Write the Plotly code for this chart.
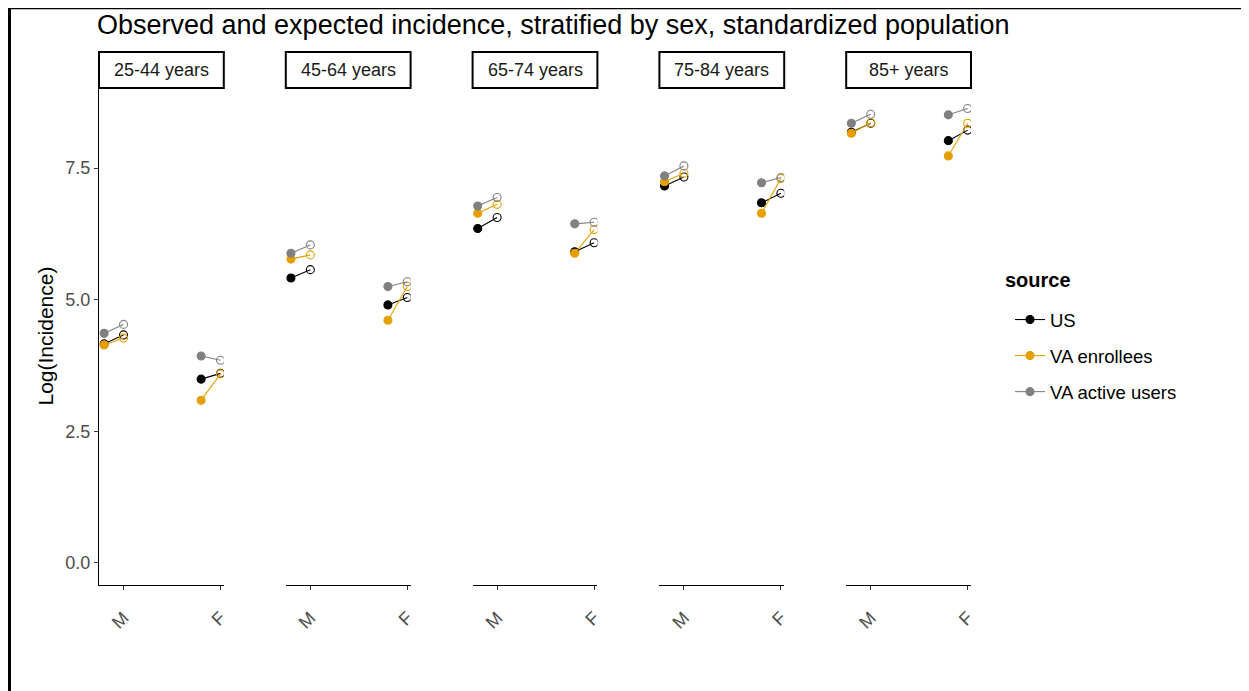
import plotly.graph_objects as go
from plotly.subplots import make_subplots

# ---------------- data ----------------
age_groups = ["25-44 years", "45-64 years", "65-74 years", "75-84 years", "85+ years"]
sexes = ["M", "F"]
sources = ["US", "VA enrollees", "VA active users"]

# observed (filled) and expected (open) log incidence, per age group: [M, F]
us_observed = [[4.16, 3.49], [5.41, 4.90], [6.35, 5.91], [7.16, 6.84], [8.18, 8.02]]
us_expected = [[4.33, 3.60], [5.57, 5.04], [6.56, 6.08], [7.33, 7.02], [8.35, 8.22]]
vae_observed = [[4.14, 3.09], [5.77, 4.61], [6.64, 5.88], [7.24, 6.64], [8.16, 7.73]]
vae_expected = [[4.27, 3.59], [5.85, 5.25], [6.81, 6.33], [7.40, 7.30], [8.36, 8.35]]
vaa_observed = [[4.36, 3.93], [5.88, 5.25], [6.78, 6.44], [7.35, 7.22], [8.35, 8.51]]
vaa_expected = [[4.53, 3.85], [6.04, 5.34], [6.94, 6.47], [7.54, 7.32], [8.52, 8.63]]

y_ticks = [0.0, 2.5, 5.0, 7.5]

series = {
    "US": (us_observed, us_expected, "#000000"),
    "VA enrollees": (vae_observed, vae_expected, "#E69F00"),
    "VA active users": (vaa_observed, vaa_expected, "#808080"),
}

# ---------------- figure ----------------
OFF = 8  # page body margin
W, H = 1249, 691
L, R, T, B = 99 - OFF, 286, 88 - OFF, 114
plot_w = W - L - R
plot_h = H - T - B

fig = make_subplots(rows=1, cols=5, shared_yaxes=True, horizontal_spacing=62 / plot_w)

obs_shift = -0.2
for gi, grp in enumerate(age_groups):
    col = gi + 1
    for src in sources:
        obs, exp, color = series[src]
        xs, ys, syms = [], [], []
        for si, sx in enumerate(sexes):
            xs += [si + 1 + obs_shift, si + 1, None]
            ys += [obs[gi][si], exp[gi][si], None]
            syms += ["circle", "circle-open", "circle"]
        fig.add_trace(
            go.Scatter(
                x=xs, y=ys, mode="lines+markers",
                name=src, legendgroup=src, showlegend=(gi == 0),
                line=dict(color=color, width=1.1),
                marker=dict(color=color, size=8, symbol=syms, line=dict(color=color, width=1.1)),
                connectgaps=False,
            ),
            row=1, col=col,
        )
    xa = "x" if gi == 0 else f"x{col}"
    fig.add_shape(type="rect", xref=f"{xa} domain", yref="paper",
                  x0=0, x1=1, y0=1.0, y1=1 + 36 / plot_h,
                  line=dict(color="black", width=2), fillcolor="white", layer="below")
    fig.add_annotation(text=grp, xref=f"{xa} domain", yref="paper",
                       x=0.5, y=1 + 18 / plot_h, xanchor="center", yanchor="middle",
                       showarrow=False, font=dict(size=18, color="#1A1A1A"))

fig.update_xaxes(range=[0.747, 2.034], tickvals=[1, 2], ticktext=sexes,
                 tickangle=-45, showline=True, linecolor="black", linewidth=1.2,
                 ticks="outside", ticklen=4, tickcolor="#333333",
                 tickfont=dict(size=18, color="#4D4D4D"), ticklabelstandoff=10,
                 showgrid=False, zeroline=False)
fig.update_yaxes(range=[-0.42, 9.02], tickvals=y_ticks, tickformat=".1f",
                 showgrid=False, zeroline=False)
fig.update_yaxes(showline=True, linecolor="black", linewidth=1.2, ticks="outside",
                 ticklen=4, tickcolor="#333333", tickfont=dict(size=18, color="#4D4D4D"),
                 row=1, col=1)
for c in range(2, 6):
    fig.update_yaxes(showline=False, ticks="", showticklabels=False, row=1, col=c)

fig.add_annotation(text="Log(Incidence)", xref="paper", yref="paper",
                   x=(45 - OFF - L) / plot_w, y=0.5, xanchor="center", yanchor="middle",
                   textangle=-90, showarrow=False,
                   font=dict(size=21, color="black"))

# legend title
fig.add_annotation(text="<b>source</b>", xref="paper", yref="paper",
                   x=(1003 - OFF - L) / plot_w, y=(H - B - (280 - OFF)) / plot_h,
                   xanchor="left", yanchor="middle", showarrow=False,
                   font=dict(size=20, color="black"))

# frame lines of the picture (at figure edge)
fig.add_shape(type="line", xref="paper", yref="paper",
              x0=(1.5 - L) / plot_w, x1=(1.5 - L) / plot_w,
              y0=-B / plot_h, y1=1 + T / plot_h, line=dict(color="black", width=3))
fig.add_shape(type="line", xref="paper", yref="paper",
              x0=-L / plot_w, x1=(W - L) / plot_w,
              y0=1 + (T - 0.5) / plot_h, y1=1 + (T - 0.5) / plot_h,
              line=dict(color="black", width=1.5))

fig.update_layout(
    width=W, height=H,
    margin=dict(l=L, r=R, t=T, b=B),
    paper_bgcolor="white", plot_bgcolor="white",
    font=dict(family="Liberation Sans, Arial, sans-serif"),
    title=dict(text="Observed and expected incidence, stratified by sex, standardized population",
               xref="container", yref="container", x=(97 - OFF) / W, xanchor="left",
               y=1 - (25 - OFF) / H, yanchor="middle",
               font=dict(size=27, color="black")),
    legend=dict(x=(1010 - OFF - L) / plot_w, xanchor="left",
                y=(H - B - (301 - OFF)) / plot_h, yanchor="top",
                font=dict(size=18.5, color="black"),
                tracegroupgap=9, itemwidth=30, bgcolor="rgba(0,0,0,0)"),
)

fig.write_html("out.html")
